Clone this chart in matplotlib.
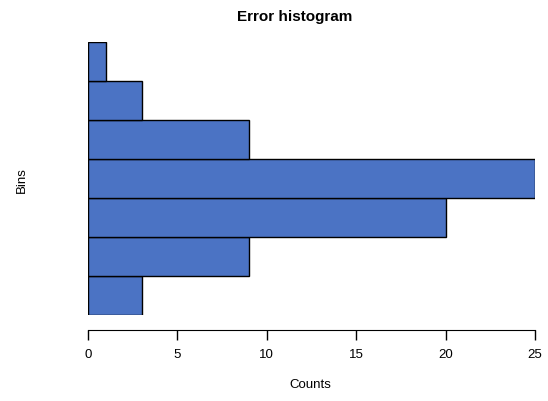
import matplotlib
matplotlib.use("Agg")
import matplotlib.pyplot as plt

plt.rcParams['font.family'] = ['Liberation Sans', 'DejaVu Sans']

counts = [3, 9, 20, 25, 9, 3, 1]  # bottom to top
xticks = [0, 5, 10, 15, 20, 25]

W, H = 548, 402
fig = plt.figure(figsize=(W/100, H/100), dpi=100)
ax = fig.add_axes([88/W, (H-316)/H, 447/W, 273/H])
ypos = [i + 0.5 for i in range(len(counts))]
ax.barh(ypos, counts, height=1.0, color='#4B73C4', edgecolor='black', linewidth=1.0)
ax.set_xlim(0, 25)
ax.set_ylim(0, len(counts))
for s in ['top', 'right', 'left']:
    ax.spines[s].set_visible(False)
ax.spines['bottom'].set_position(('outward', 11))
ax.set_yticks([])
ax.set_xticks(xticks)
ax.set_xticklabels([str(v) for v in xticks])
ax.tick_params(axis='x', length=7, width=1, labelsize=9.5, pad=6)
fig.text(295/W, 1 - 21/H, 'Error histogram', ha='center', va='baseline', fontsize=11, fontweight='bold')
fig.text(310/W, 1 - 385/H, 'Counts', ha='center', va='center', fontsize=9.5)
fig.text(22/W, 1 - 180/H, 'Bins', ha='center', va='center', fontsize=9.5, rotation=90)
fig.savefig('out.png', dpi=100)
